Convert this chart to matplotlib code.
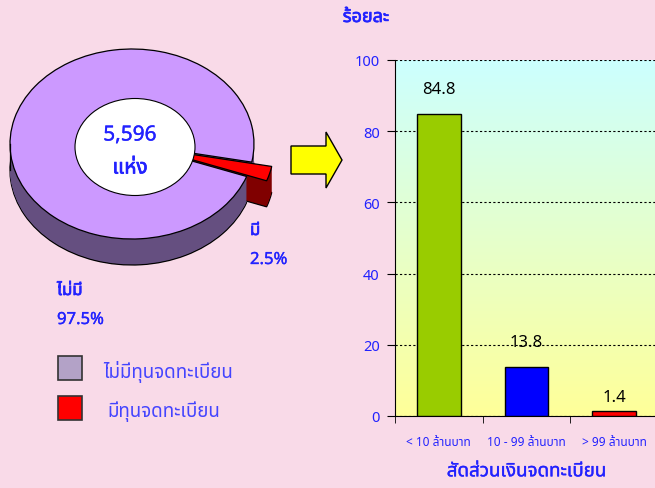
import numpy as np
import matplotlib
matplotlib.use("Agg")
import matplotlib.pyplot as plt
import matplotlib.patheffects as pe
from matplotlib import font_manager
from matplotlib.ft2font import FT2Font
from matplotlib.patches import Ellipse, Rectangle, FancyArrow

# pie data
pie_labels = ["ไม่มีทุนจดทะเบียน", "มีทุนจดทะเบียน"]
pie_short = ["ไม่มี", "มี"]
pie_values = [97.5, 2.5]
total_count = "5,596"
count_unit = "แห่ง"

# bar data
bar_categories = ["< 10 ล้านบาท", "10 - 99 ล้านบาท", "> 99 ล้านบาท"]
bar_values = [84.8, 13.8, 1.4]
y_ticks = [0, 20, 40, 60, 80, 100]
y_title = "ร้อยละ"
x_title = "สัดส่วนเงินจดทะเบียน"


def find_thai_font():
    # look for any installed family that has Thai glyphs
    preferred = ["Tahoma", "Noto Sans Thai", "Noto Sans Thai UI", "Leelawadee UI",
                 "Loma", "Garuda", "Sarabun", "Kinnari"]
    found = {}
    for f in font_manager.fontManager.ttflist:
        if f.name in found:
            continue
        try:
            if 0x0E01 in FT2Font(f.fname).get_charmap():
                found[f.name] = f.fname
        except Exception:
            pass
    for name in preferred:
        if name in found:
            return name
    return next(iter(found), None)


thai = find_thai_font()
families = [thai, "DejaVu Sans"] if thai else ["DejaVu Sans"]
plt.rcParams["font.family"] = families

W, H = 655, 489
BG = "#F9DAE8"
BLUE = "#2222FF"
# the thai face has only one weight, so fake the heavier text with a thin stroke
heavy = [pe.withStroke(linewidth=0.5, foreground=BLUE)]
semi = [pe.withStroke(linewidth=0.25, foreground=BLUE)]

fig = plt.figure(figsize=(W / 100, H / 100), dpi=100, facecolor=BG)

# ---- 3D-looking pie, drawn in its own axes (unit circle squashed to an ellipse)
cx, cy, rx, ry, depth = 132, 145, 122, 95, 26
ax_pie = fig.add_axes([0, 0, 1, 1])
ax_pie.patch.set_alpha(0)
explode = [0, 0.17]
top_colors = ["#CC99FF", "#FF0000"]
side_colors = ["#654F80", "#800000"]
start = -11

for k in range(depth, 0, -1):
    edge = dict(edgecolor="black", linewidth=0.9) if k == depth else dict(linewidth=0)
    ax_pie.pie(pie_values, colors=side_colors, startangle=start, explode=explode,
               center=(0, -k / ry), wedgeprops=edge)
ax_pie.plot([-1, -1], [0, -depth / ry], color="black", lw=0.9)
ax_pie.pie(pie_values, colors=top_colors, startangle=start, explode=explode,
           wedgeprops=dict(edgecolor="black", linewidth=0.9))
ax_pie.add_patch(Ellipse((3 / rx, -3 / ry), 120 / rx, 97 / ry, facecolor="white",
                         edgecolor="black", lw=0.8, zorder=5))
ax_pie.set_xlim(-cx / rx, (W - cx) / rx)
ax_pie.set_ylim((cy - H) / ry, cy / ry)
ax_pie.set_aspect("auto")
ax_pie.axis("off")

# ---- overlay in pixel coordinates for arrow, legend and labels
ax_px = fig.add_axes([0, 0, 1, 1])
ax_px.patch.set_alpha(0)
ax_px.set_xlim(0, W)
ax_px.set_ylim(H, 0)
ax_px.axis("off")

ax_px.add_patch(FancyArrow(291, 161, 51, 0, width=28, head_width=56, head_length=16,
                           length_includes_head=True, facecolor="#FFFF00",
                           edgecolor="black", lw=1))

ax_px.text(130, 136, total_count, color=BLUE, fontsize=15, path_effects=semi,
           ha="center", va="center", zorder=6)
ax_px.text(130, 169, count_unit, color=BLUE, fontsize=15, path_effects=heavy,
           ha="center", va="center", zorder=6)
ax_px.text(250, 232, pie_short[1], color=BLUE, fontsize=12, path_effects=heavy,
           ha="left", va="center")
ax_px.text(250, 261, f"{pie_values[1]}%", color=BLUE, fontsize=12, path_effects=semi,
           ha="left", va="center")
ax_px.text(57, 292, pie_short[0], color=BLUE, fontsize=12, path_effects=heavy,
           ha="left", va="center")
ax_px.text(57, 321, f"{pie_values[0]}%", color=BLUE, fontsize=12, path_effects=semi,
           ha="left", va="center")

legend_colors = ["#B3A2C7", "#FF0000"]
for i, (lab, col) in enumerate(zip(pie_labels, legend_colors)):
    y0 = 357 + i * 40
    ax_px.add_patch(Rectangle((58, y0), 24, 24, facecolor=col, edgecolor="#333333", lw=1.2))
    ax_px.text(103 + 4 * i, y0 + 15, lab, color="#4444FF", fontsize=13.5, ha="left", va="center")

ax_px.text(366, 18, y_title, color=BLUE, fontsize=13, path_effects=heavy,
           ha="center", va="center")

# ---- bar chart
ax = fig.add_axes([395 / W, (H - 417) / H, 263 / W, 356 / H])
x = np.arange(len(bar_categories))
grad = np.linspace(0, 1, 256).reshape(-1, 1)
cmap = matplotlib.colors.LinearSegmentedColormap.from_list("bg", ["#FFFF99", "#CCFFFF"])
ax.imshow(grad, extent=[-0.5, 2.5, 0, 100], origin="lower", aspect="auto", cmap=cmap, zorder=0)
ax.bar(x, bar_values, width=0.5, color=["#99CC00", "#0000FF", "#FF0000"],
       edgecolor="black", lw=1, zorder=3)
label_pad = [12, 12, 4]
for xi, v, p in zip(x, bar_values, label_pad):
    ax.annotate(f"{v}", (xi, v), xytext=(0, p), textcoords="offset points",
                ha="center", va="bottom", fontsize=12, color="black", zorder=4)

ax.set_xlim(-0.5, 2.5)
ax.set_ylim(0, 100)
ax.set_yticks(y_ticks)
ax.yaxis.grid(True, linestyle=(0, (2, 2)), color="black", lw=0.8, zorder=1)
ax.set_axisbelow(False)
ax.tick_params(axis="y", colors="black", labelcolor=BLUE, labelsize=10.5, length=6, pad=5)
ax.set_xticks(x)
ax.set_xticklabels(bar_categories)
ax.set_xticks([-0.5, 0.5, 1.5, 2.5], minor=True)
ax.tick_params(axis="x", which="major", length=0, labelcolor=BLUE, labelsize=8.5, pad=14)
ax.tick_params(axis="x", which="minor", length=5, color="black")
ax.spines["top"].set_visible(False)
ax.spines["right"].set_visible(False)
ax.set_xlabel(x_title, color=BLUE, fontsize=13.5, labelpad=10, path_effects=semi)

fig.savefig("out.png", dpi=100, facecolor=BG)
